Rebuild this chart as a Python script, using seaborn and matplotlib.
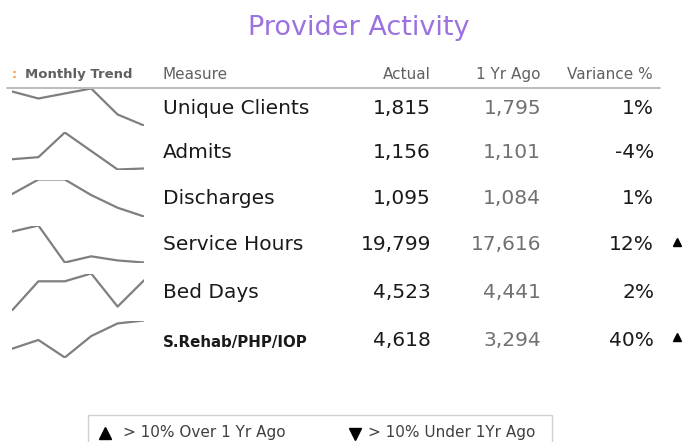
# provider_activity.py
import matplotlib
matplotlib.use('Agg')
import matplotlib.pyplot as plt
import seaborn as sns
import pandas as pd

sns.set_theme(style='white')
plt.rcParams['font.family'] = ['DejaVu Sans']

# data
measures = ['Unique Clients', 'Admits', 'Discharges', 'Service Hours', 'Bed Days', 'S.Rehab/PHP/IOP']
actual = ['1,815', '1,156', '1,095', '19,799', '4,523', '4,618']
yr_ago = ['1,795', '1,101', '1,084', '17,616', '4,441', '3,294']
variance = ['1%', '-4%', '1%', '12%', '2%', '40%']
flag_up = [False, False, False, True, False, True]
months = [1, 2, 3, 4, 5, 6]
trends = [
    [38, 31, 36, 41, 15, 4],
    [21, 23, 47, 29, 11, 12],
    [36, 51, 51, 35, 22, 13],
    [43, 49, 13, 19, 15, 13],
    [10, 40, 40, 48, 14, 41],
    [17, 26, 8, 30, 43, 46],
]

W, H = 688, 442
fig = plt.figure(figsize=(W / 100, H / 100), dpi=100)
ax = fig.add_axes([0, 0, 1, 1])
ax.set_xlim(0, W)
ax.set_ylim(H, 0)
ax.axis('off')

# title
ax.text(359, 28, 'Provider Activity', color='#9b72e0', fontsize=19.5,
        ha='center', va='center')

# header
hdr = dict(color='#606060', fontsize=11, va='baseline')
ax.text(12, 78, ':', color='#f0a050', fontsize=9, va='baseline', fontweight='bold')
ax.text(25, 78, 'Monthly Trend', color='#606060', fontsize=9.5, va='baseline', fontweight='bold')
ax.text(163, 79, 'Measure', **hdr)
ax.text(431, 79, 'Actual', ha='right', **hdr)
ax.text(541, 79, '1 Yr Ago', ha='right', **hdr)
ax.text(653, 79, 'Variance %', ha='right', **hdr)
ax.plot([7, 660], [88, 88], color='#b0b0b0', lw=1.2)

row_y = [107, 151, 198, 244, 292, 339]
big = 14.5
for i, name in enumerate(measures):
    y = row_y[i]
    b = y + 6.5
    if name.startswith('S.Rehab'):
        ax.text(163, b + 1, name, fontsize=10.8, fontweight='bold', color='#1a1a1a', va='baseline')
    else:
        ax.text(163, b, name, fontsize=big, color='#1a1a1a', va='baseline')
    ax.text(431, b, actual[i], fontsize=big, color='#1a1a1a', ha='right', va='baseline')
    ax.text(541, b, yr_ago[i], fontsize=big, color='#707070', ha='right', va='baseline')
    ax.text(654, b, variance[i], fontsize=big, color='#1a1a1a', ha='right', va='baseline')
    if flag_up[i]:
        ax.plot(677, y - 2, marker='^', color='black', markersize=6)

    # sparkline in its own small axes
    top = y - 18.5
    sax = fig.add_axes([12 / W, 1 - (top + 37) / H, 132 / W, 37 / H])
    df = pd.DataFrame({'month': months, 'value': trends[i]})
    sns.lineplot(data=df, x='month', y='value', ax=sax, color='#7f7f7f', lw=1.6)
    sax.margins(0)
    sax.axis('off')

# legend box
ax.add_patch(plt.Rectangle((88, 415), 464, 30, fill=False, edgecolor='#d0d0d0', lw=1))
ax.plot(105, 433, marker='^', color='black', markersize=9)
ax.text(123, 437, '> 10% Over 1 Yr Ago', fontsize=11, color='#404040', va='baseline')
ax.plot(355, 434, marker='v', color='black', markersize=9)
ax.text(368, 437, '> 10% Under 1Yr Ago', fontsize=11, color='#404040', va='baseline')

fig.savefig('out.png', dpi=100)
